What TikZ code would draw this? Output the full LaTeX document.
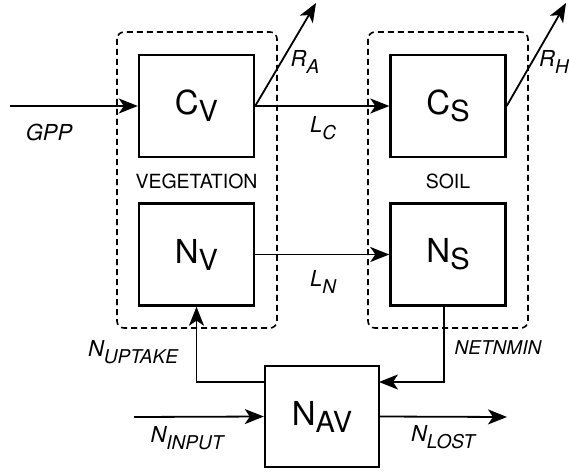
\documentclass[tikz,border=0pt]{standalone}
\usepackage{fontspec}
\setmainfont{TeX Gyre Heros}
\usetikzlibrary{arrows.meta}

\newcommand{\pool}[2]{\fontsize{33}{33}\selectfont #1\raisebox{-7pt}{\fontsize{29}{29}\selectfont #2}}
\newcommand{\flux}[2]{\fontsize{22}{22}\selectfont\itshape #1\raisebox{-7pt}{\fontsize{19}{19}\selectfont #2}}

\begin{document}
\begin{tikzpicture}[x=1pt, y=-1pt, line width=1.8pt,
    >={Stealth[length=19pt, width=15pt, inset=5pt]},
    poolbox/.style={draw, line width=2.4pt, minimum width=115pt, minimum height=102pt, inner sep=0pt},
    group/.style={draw, line width=1.6pt, dashed, dash pattern=on 6pt off 4pt, rounded corners=7pt},
    fluxlbl/.style={inner sep=0pt},
    grouplbl/.style={inner sep=0pt, font=\fontsize{19.5}{19.5}\selectfont}]
  \useasboundingbox (0,0) rectangle (569,473);

  % compartments
  \draw[group] (117,32) rectangle (277,328);
  \draw[group] (368,32) rectangle (528,328);

  \node[poolbox] (CV)  at (196.5,106) {\pool{C}{V}};
  \node[poolbox] (CS)  at (448,106)   {\pool{C}{S}};
  \node[poolbox] (NV)  at (196.5,254.5) {\pool{N}{V}};
  \node[poolbox] (NS)  at (448,254.5) {\pool{N}{S}};
  \node[poolbox, minimum width=114pt, minimum height=101pt] (NAV) at (322,416.5) {\pool{N}{AV}};

  \coordinate (gppin) at (10,106);
  \coordinate (ra)    at (316,3);
  \coordinate (rh)    at (566,3);
  \coordinate (upt)   at (265,382);
  \coordinate (nmin)  at (379,382);
  \coordinate (nin)   at (134,417);
  \coordinate (nlost) at (507,417);

  \draw[->] (gppin) -- (CV.west);
  \draw[->] (CV.east) -- (CS.west);
  \draw[->] (CV.east) -- (ra);
  \draw[->] (CS.east) -- (rh);
  \draw[->] (NV.east) -- (NS.west);
  \draw[->] (upt) -| (NV.south);
  \draw[->] ([xshift=-4pt]NS.south) |- (nmin);
  \draw[->] (nin) -- (NAV.west);
  \draw[->] (NAV.east) -- (nlost);

  \node[grouplbl] (veg)  at (196.5,181) {VEGETATION};
  \node[grouplbl] (soil) at (448,181)   {SOIL};

  \node[fluxlbl] (gpp)    at (49,136)  {\flux{GPP}{}};
  \node[fluxlbl] (lra)    at (305,62)  {\flux{R}{A}};
  \node[fluxlbl] (lrh)    at (554,62)  {\flux{R}{H}};
  \node[fluxlbl] (llc)    at (323,128) {\flux{L}{C}};
  \node[fluxlbl] (lln)    at (323,282) {\flux{L}{N}};
  \node[fluxlbl] (luptk)  at (133,352) {\flux{N}{UPTAKE}};
  \node[fluxlbl] (lnmin)  at (498,348) {\fontsize{19}{19}\selectfont\itshape NETNMIN};
  \node[fluxlbl] (linput) at (187,438) {\flux{N}{INPUT}};
  \node[fluxlbl] (llost)  at (443,437) {\flux{N}{LOST}};
\end{tikzpicture}
\end{document}
